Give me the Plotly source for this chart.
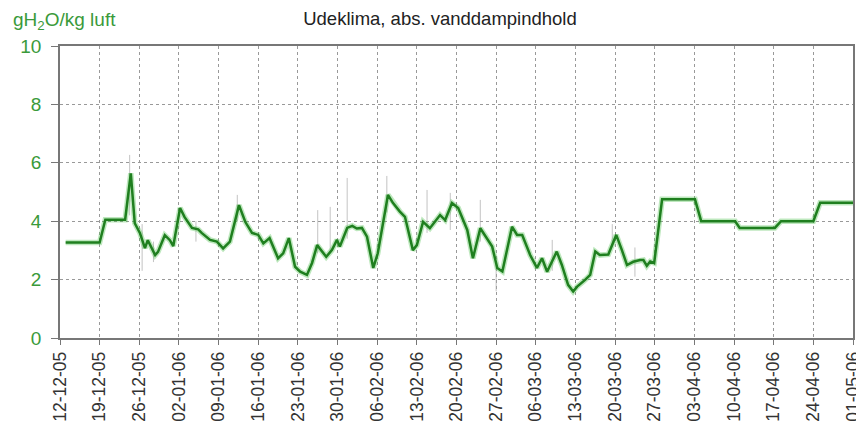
import pandas as pd
import plotly.graph_objects as go

base = pd.Timestamp("2005-12-12")

# smoothed (green) series: day offset from 12-12-05, value g/kg
green_days = [1, 7, 8, 11.5, 12.5, 13.2, 14.1, 15, 15.5, 16.8, 17.3, 18.5, 19.4, 20, 21.2, 22,
              23.3, 24.4, 25, 26.5, 27.7, 28.8, 30, 31.6, 32.7, 33.9, 35, 35.9, 37, 38.5, 39.4,
              40.4, 41.5, 42.4, 43.6, 44.5, 45.4, 46.3, 47, 48, 48.9, 49.4, 50.7, 51.6, 52.4,
              53.3, 54.2, 55.3, 56.1, 57.9, 58.8, 60, 60.9, 62.3, 63, 64.1, 65.3, 67.1, 68,
              69.2, 70.3, 71.9, 72.9, 74.2, 75, 76.3, 77.2, 78.1, 79.8, 80.7, 81.6, 83, 84.2,
              85.1, 86, 87.7, 88.6, 89.7, 90.6, 91.3, 92.7, 93.6, 94.5, 95.3, 96.8, 98.2, 99.2,
              100.1, 101.2, 102.4, 103, 103.6, 104.2, 104.9, 106.3, 112.1, 113.2, 119.2, 120,
              126.2, 127.3, 133, 134.2, 140]
green_vals = [3.27, 3.27, 4.05, 4.05, 5.64, 3.93, 3.6, 3.08, 3.35, 2.84, 2.95, 3.52, 3.35, 3.15,
              4.45, 4.14, 3.77, 3.72, 3.6, 3.36, 3.3, 3.07, 3.3, 4.55, 3.98, 3.6, 3.53, 3.24,
              3.42, 2.73, 2.9, 3.42, 2.44, 2.27, 2.16, 2.57, 3.18, 2.96, 2.78, 3.01, 3.36, 3.13,
              3.77, 3.84, 3.75, 3.77, 3.47, 2.4, 2.9, 4.9, 4.62, 4.33, 4.15, 3.01, 3.18, 3.98,
              3.76, 4.21, 4.04, 4.62, 4.45, 3.7, 2.73, 3.76, 3.53, 3.13, 2.4, 2.28, 3.81, 3.53,
              3.53, 2.84, 2.4, 2.73, 2.27, 2.96, 2.5, 1.82, 1.59, 1.76, 1.99, 2.16, 2.96, 2.84,
              2.86, 3.53, 3.01, 2.5, 2.61, 2.67, 2.67, 2.47, 2.62, 2.57, 4.75, 4.75, 4.0, 4.0,
              3.77, 3.77, 4.0, 4.0, 4.63, 4.63]

# raw (gray) excursions: day offset, low, high
spike_days = [12.3, 14.5, 16.5, 24.0, 31.3, 45.5, 47.7, 50.7, 57.7, 64.8, 68.9, 74.2, 77.0,
              86.9, 97.5, 101.5]
spike_low = [4.2, 2.3, 2.6, 3.3, 4.0, 2.9, 2.9, 3.4, 4.3, 3.6, 3.7, 3.3, 1.6, 2.3, 3.2, 2.1]
spike_high = [6.27, 3.9, 3.3, 4.0, 4.9, 4.38, 4.49, 5.48, 5.55, 5.07, 4.97, 4.73, 2.6, 3.36, 3.9, 3.1]

title_text = "Udeklima, abs. vanddampindhold"
y_title = "gH<sub>2</sub>O/kg luft"


def to_date(d):
    return base + pd.to_timedelta(d, unit="D")


gx, gy = [], []
for d, lo, hi in zip(spike_days, spike_low, spike_high):
    gx += [to_date(d), to_date(d), None]
    gy += [lo, hi, None]

fig = go.Figure()
fig.add_trace(go.Scatter(x=gx, y=gy, mode="lines",
                         line=dict(color="rgba(170,170,170,0.7)", width=1),
                         hoverinfo="skip", showlegend=False))
fig.add_trace(go.Scatter(x=[to_date(d) for d in green_days], y=green_vals, mode="lines",
                         line=dict(color="rgba(70,190,70,0.35)", width=5.5),
                         hoverinfo="skip", showlegend=False))
fig.add_trace(go.Scatter(x=[to_date(d) for d in green_days], y=green_vals, mode="lines",
                         line=dict(color="#1f7f1f", width=2.5), showlegend=False))

# page body has an 8px default margin, so the figure is sized to fit the window
W, H = 856, 433
ML, MR, MT, MB = 52, 11, 38, 103
PW, PH = W - ML - MR, H - MT - MB

fig.update_layout(
    width=W, height=H,
    margin=dict(l=ML, r=MR, t=MT, b=MB),
    paper_bgcolor="white", plot_bgcolor="white",
    font=dict(family="Liberation Sans, Arial, sans-serif", color="#333"),
    title=dict(text=title_text, x=432 / W, xanchor="center", y=1 - 11 / H, yanchor="middle",
               font=dict(size=18.5, color="#222")),
    showlegend=False,
)
fig.update_xaxes(
    type="date", automargin=False,
    range=[base, to_date(140)],
    tick0=base, dtick=7 * 86400000, tickformat="%d-%m-%y", tickangle=-90,
    tickfont=dict(size=17.5, color="#333"),
    showgrid=True, gridcolor="#999", griddash="dot", gridwidth=1,
    showline=True, linecolor="#777", linewidth=1.5, mirror=True,
    ticks="outside", ticklen=5, tickcolor="#777",
    zeroline=False,
)
fig.update_yaxes(
    range=[0, 10], tick0=0, dtick=2, automargin=False,
    tickfont=dict(size=19, color="#3a9a3a"),
    showgrid=True, gridcolor="#999", griddash="dot", gridwidth=1,
    showline=True, linecolor="#777", linewidth=1.5, mirror=True,
    ticks="outside", ticklen=7, tickcolor="#777", ticklabelstandoff=6,
    zeroline=False,
)
fig.add_annotation(text=y_title, xref="paper", yref="paper",
                   x=(3 - ML) / PW, y=(PH + MT - 13) / PH, xanchor="left", yanchor="middle",
                   showarrow=False, font=dict(size=19, color="#3a9a3a"))

fig.write_html("out.html")
